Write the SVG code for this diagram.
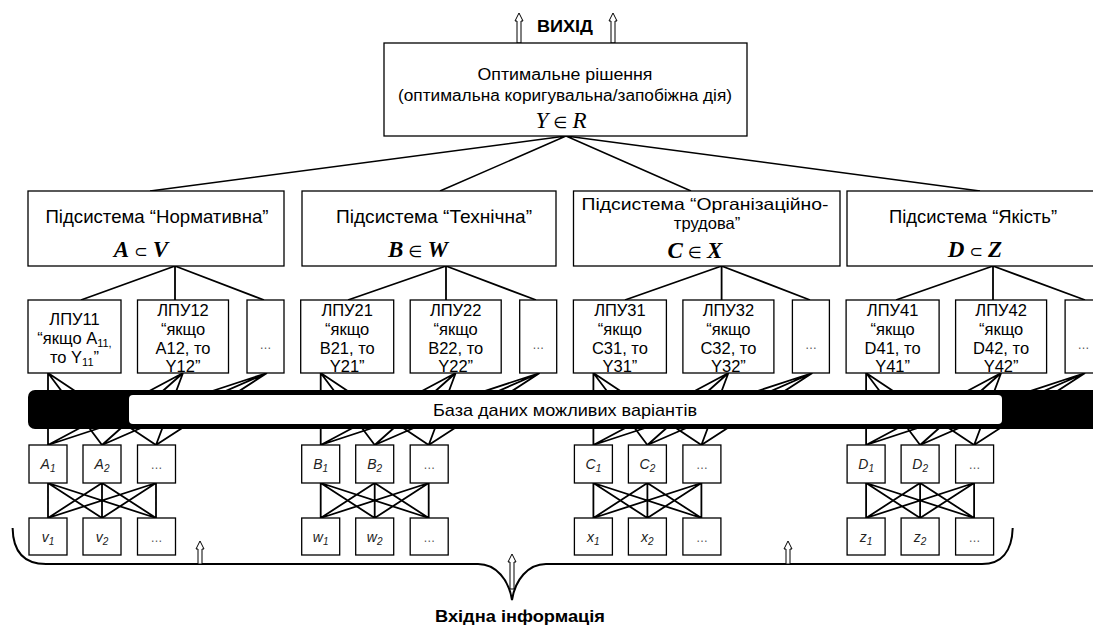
<svg xmlns="http://www.w3.org/2000/svg" width="1093" height="626" viewBox="0 0 1093 626">
<style>
.box{fill:#fff;stroke:#000;stroke-width:1.3}
.ln{stroke:#000;stroke-width:1.5;fill:none}
.ln2{stroke:#000;stroke-width:1.8;fill:none}
.t{font-family:"Liberation Sans",Arial,sans-serif;fill:#000;text-anchor:middle}
.top{font-size:16px}
.sub{font-size:18.5px}
.sub3{font-size:16.5px}
.lpu{font-size:16.5px}
.db{font-size:17px}
.m{font-family:"Liberation Serif","Times New Roman",serif;font-style:italic;font-size:23px;text-anchor:middle;fill:#000}
.mb{font-weight:bold}
.op{font-family:"DejaVu Sans",sans-serif;font-style:normal;font-weight:normal;font-size:16px}
.lbl{font-family:"Liberation Sans",Arial,sans-serif;font-style:italic;font-size:14px;fill:#222;text-anchor:middle}
.dots{font-family:"Liberation Sans",Arial,sans-serif;font-size:12px;fill:#555;text-anchor:middle}
.bold{font-family:"Liberation Sans",Arial,sans-serif;font-weight:bold;font-size:16px;fill:#000;text-anchor:middle}
.arr{fill:#fff;stroke:#000;stroke-width:1}
</style>

<g id="connectors">
  <path class="ln" d="M566,136 L150,191 M566,136 L440,191 M566,136 L691,191 M566,136 L980,191"/>
  <path class="ln2" d="M175,266 L81,300 M175,266 L175,300 M175,266 L264,300"/>
  <path class="ln2" d="M446,266 L348,300 M446,266 L446,300 M446,266 L536,300"/>
  <path class="ln2" d="M721.6,266 L625,300 M721.6,266 L721.6,300 M721.6,266 L810,300"/>
  <path class="ln2" d="M993,266 L896,300 M993,266 L993,300 M993,266 L1085,300"/>
  <path class="ln2" d="M48,373 L48,445 M48,373 L102,445 M48,373 L156,445 M183,373 L48,445 M183,373 L102,445 M183,373 L156,445 M267,373 L48,445 M267,373 L102,445 M267,373 L156,445"/>
  <path class="ln2" d="M320.7,373 L320.7,445 M320.7,373 L374.7,445 M320.7,373 L428.7,445 M455.7,373 L320.7,445 M455.7,373 L374.7,445 M455.7,373 L428.7,445 M539.7,373 L320.7,445 M539.7,373 L374.7,445 M539.7,373 L428.7,445"/>
  <path class="ln2" d="M593.4,373 L593.4,445 M593.4,373 L647.4,445 M593.4,373 L701.4,445 M728.4,373 L593.4,445 M728.4,373 L647.4,445 M728.4,373 L701.4,445 M812.4,373 L593.4,445 M812.4,373 L647.4,445 M812.4,373 L701.4,445"/>
  <path class="ln2" d="M866.1,373 L866.1,445 M866.1,373 L920.1,445 M866.1,373 L974.1,445 M1001.1,373 L866.1,445 M1001.1,373 L920.1,445 M1001.1,373 L974.1,445 M1085.1,373 L866.1,445 M1085.1,373 L920.1,445 M1085.1,373 L974.1,445"/>
  <path class="ln2" d="M48,483 L48,518 M48,483 L102,518 M48,483 L156,518 M102,483 L48,518 M102,483 L102,518 M102,483 L156,518 M156,483 L48,518 M156,483 L102,518 M156,483 L156,518"/>
  <path class="ln2" d="M320.7,483 L320.7,518 M320.7,483 L374.7,518 M320.7,483 L428.7,518 M374.7,483 L320.7,518 M374.7,483 L374.7,518 M374.7,483 L428.7,518 M428.7,483 L320.7,518 M428.7,483 L374.7,518 M428.7,483 L428.7,518"/>
  <path class="ln2" d="M593.4,483 L593.4,518 M593.4,483 L647.4,518 M593.4,483 L701.4,518 M647.4,483 L593.4,518 M647.4,483 L647.4,518 M647.4,483 L701.4,518 M701.4,483 L593.4,518 M701.4,483 L647.4,518 M701.4,483 L701.4,518"/>
  <path class="ln2" d="M866.1,483 L866.1,518 M866.1,483 L920.1,518 M866.1,483 L974.1,518 M920.1,483 L866.1,518 M920.1,483 L920.1,518 M920.1,483 L974.1,518 M974.1,483 L866.1,518 M974.1,483 L920.1,518 M974.1,483 L974.1,518"/>
</g>

<g id="output">
  <polygon class="arr" points="519,13 523,21 521,21 521,43 517,43 517,21 515,21"/>
  <polygon class="arr" points="613,13 617,21 615,21 615,43 611,43 611,21 609,21"/>
  <text class="bold" x="565" y="32" textLength="56" lengthAdjust="spacingAndGlyphs">ВИХІД</text>
</g>

<g id="n-top">
  <rect class="box" x="384" y="43" width="363" height="93"/>
  <text class="t top" x="565" y="80" textLength="175" lengthAdjust="spacingAndGlyphs">Оптимальне рішення</text>
  <text class="t top" x="565" y="101" textLength="334" lengthAdjust="spacingAndGlyphs">(оптимальна коригувальна/запобіжна дія)</text>
  <text class="m" x="561" y="128">Y<tspan class="op"> ∈ </tspan>R</text>
</g>

<g id="n-sub1">
  <rect class="box" x="28" y="191" width="256" height="75"/>
  <text class="t sub" x="157" y="223" textLength="223" lengthAdjust="spacingAndGlyphs">Підсистема “Нормативна”</text>
  <text class="m mb" x="141" y="257">A<tspan class="op">  ⊂  </tspan>V</text>
</g>
<g id="n-sub2">
  <rect class="box" x="302" y="191" width="254" height="75"/>
  <text class="t sub" x="434" y="223" textLength="196" lengthAdjust="spacingAndGlyphs">Підсистема “Технічна”</text>
  <text class="m mb" x="418" y="257">B<tspan class="op">  ∈  </tspan>W</text>
</g>
<g id="n-sub3">
  <rect class="box" x="573.5" y="191" width="266.5" height="75"/>
  <text class="t sub3" x="705" y="210" textLength="247" lengthAdjust="spacingAndGlyphs">Підсистема “Організаційно-</text>
  <text class="t sub3" x="707" y="229">трудова”</text>
  <text class="m mb" x="695" y="258">C<tspan class="op">  ∈  </tspan>X</text>
</g>
<g id="n-sub4">
  <rect class="box" x="847" y="191" width="260" height="75"/>
  <text class="t sub" x="973" y="223" textLength="168" lengthAdjust="spacingAndGlyphs">Підсистема “Якість”</text>
  <text class="m mb" x="975" y="257">D<tspan class="op">  ⊂  </tspan>Z</text>
</g>

<g id="n-lpu11">
  <rect class="box" x="28" y="300" width="93" height="73"/>
  <text class="t lpu" x="74.5" y="325">ЛПУ11</text>
  <text class="t lpu" x="74.5" y="344">“якщо A<tspan font-size="11" dy="3">11,</tspan></text>
  <text class="t lpu" x="74.5" y="363">то Y<tspan font-size="11" dy="3">11</tspan><tspan dy="-3">”</tspan></text>
</g>
<g id="n-lpu12">
  <rect class="box" x="137.5" y="300" width="91" height="73"/>
  <text class="t lpu" x="183" y="316">ЛПУ12</text>
  <text class="t lpu" x="183" y="335">“якщо</text>
  <text class="t lpu" x="183" y="354">A12, то</text>
  <text class="t lpu" x="183" y="372">Y12”</text>
</g>
<g id="n-lpu1x">
  <rect class="box" x="247" y="300" width="37" height="73"/>
  <text class="dots" x="265.5" y="349">…</text>
</g>
<g id="n-lpu21">
  <rect class="box" x="300.7" y="300" width="93" height="73"/>
  <text class="t lpu" x="347.2" y="316">ЛПУ21</text>
  <text class="t lpu" x="347.2" y="335">“якщо</text>
  <text class="t lpu" x="347.2" y="354">B21, то</text>
  <text class="t lpu" x="347.2" y="372">Y21”</text>
</g>
<g id="n-lpu22">
  <rect class="box" x="410.2" y="300" width="91" height="73"/>
  <text class="t lpu" x="455.7" y="316">ЛПУ22</text>
  <text class="t lpu" x="455.7" y="335">“якщо</text>
  <text class="t lpu" x="455.7" y="354">B22, то</text>
  <text class="t lpu" x="455.7" y="372">Y22”</text>
</g>
<g id="n-lpu2x">
  <rect class="box" x="519.7" y="300" width="37" height="73"/>
  <text class="dots" x="538.2" y="349">…</text>
</g>
<g id="n-lpu31">
  <rect class="box" x="573.4" y="300" width="93" height="73"/>
  <text class="t lpu" x="619.9" y="316">ЛПУ31</text>
  <text class="t lpu" x="619.9" y="335">“якщо</text>
  <text class="t lpu" x="619.9" y="354">C31, то</text>
  <text class="t lpu" x="619.9" y="372">Y31”</text>
</g>
<g id="n-lpu32">
  <rect class="box" x="682.9" y="300" width="91" height="73"/>
  <text class="t lpu" x="728.4" y="316">ЛПУ32</text>
  <text class="t lpu" x="728.4" y="335">“якщо</text>
  <text class="t lpu" x="728.4" y="354">C32, то</text>
  <text class="t lpu" x="728.4" y="372">Y32”</text>
</g>
<g id="n-lpu3x">
  <rect class="box" x="792.4" y="300" width="37" height="73"/>
  <text class="dots" x="810.9" y="349">…</text>
</g>
<g id="n-lpu41">
  <rect class="box" x="846.1" y="300" width="93" height="73"/>
  <text class="t lpu" x="892.6" y="316">ЛПУ41</text>
  <text class="t lpu" x="892.6" y="335">“якщо</text>
  <text class="t lpu" x="892.6" y="354">D41, то</text>
  <text class="t lpu" x="892.6" y="372">Y41”</text>
</g>
<g id="n-lpu42">
  <rect class="box" x="955.6" y="300" width="91" height="73"/>
  <text class="t lpu" x="1001.1" y="316">ЛПУ42</text>
  <text class="t lpu" x="1001.1" y="335">“якщо</text>
  <text class="t lpu" x="1001.1" y="354">D42, то</text>
  <text class="t lpu" x="1001.1" y="372">Y42”</text>
</g>
<g id="n-lpu4x">
  <rect class="box" x="1065.1" y="300" width="37" height="73"/>
  <text class="dots" x="1083.6" y="349">…</text>
</g>

<g id="n-db">
  <rect x="28" y="390" width="1090" height="39" rx="7" fill="#000"/>
  <rect x="129" y="395" width="873" height="29" rx="4" fill="#fff"/>
  <text class="t db" x="565" y="416" textLength="264" lengthAdjust="spacingAndGlyphs">База даних можливих варіантів</text>
</g>

<g id="n-a1"><rect class="box" x="29" y="445" width="38" height="38"/><text class="lbl" x="48" y="469">A<tspan font-size="10" dy="3">1</tspan></text></g>
<g id="n-a2"><rect class="box" x="83" y="445" width="38" height="38"/><text class="lbl" x="102" y="469">A<tspan font-size="10" dy="3">2</tspan></text></g>
<g id="n-ax"><rect class="box" x="137.5" y="445" width="38" height="38"/><text class="dots" x="156.5" y="469">…</text></g>
<g id="n-b1"><rect class="box" x="301.7" y="445" width="38" height="38"/><text class="lbl" x="320.7" y="469">B<tspan font-size="10" dy="3">1</tspan></text></g>
<g id="n-b2"><rect class="box" x="355.7" y="445" width="38" height="38"/><text class="lbl" x="374.7" y="469">B<tspan font-size="10" dy="3">2</tspan></text></g>
<g id="n-bx"><rect class="box" x="410.2" y="445" width="38" height="38"/><text class="dots" x="429.2" y="469">…</text></g>
<g id="n-c1"><rect class="box" x="574.4" y="445" width="38" height="38"/><text class="lbl" x="593.4" y="469">C<tspan font-size="10" dy="3">1</tspan></text></g>
<g id="n-c2"><rect class="box" x="628.4" y="445" width="38" height="38"/><text class="lbl" x="647.4" y="469">C<tspan font-size="10" dy="3">2</tspan></text></g>
<g id="n-cx"><rect class="box" x="682.9" y="445" width="38" height="38"/><text class="dots" x="701.9" y="469">…</text></g>
<g id="n-d1"><rect class="box" x="847.1" y="445" width="38" height="38"/><text class="lbl" x="866.1" y="469">D<tspan font-size="10" dy="3">1</tspan></text></g>
<g id="n-d2"><rect class="box" x="901.1" y="445" width="38" height="38"/><text class="lbl" x="920.1" y="469">D<tspan font-size="10" dy="3">2</tspan></text></g>
<g id="n-dx"><rect class="box" x="955.6" y="445" width="38" height="38"/><text class="dots" x="974.6" y="469">…</text></g>

<g id="n-v1"><rect class="box" x="29" y="518" width="38" height="37"/><text class="lbl" x="48" y="542">v<tspan font-size="10" dy="3">1</tspan></text></g>
<g id="n-v2"><rect class="box" x="83" y="518" width="38" height="37"/><text class="lbl" x="102" y="542">v<tspan font-size="10" dy="3">2</tspan></text></g>
<g id="n-vx"><rect class="box" x="137.5" y="518" width="38" height="37"/><text class="dots" x="156.5" y="542">…</text></g>
<g id="n-w1"><rect class="box" x="301.7" y="518" width="38" height="37"/><text class="lbl" x="320.7" y="542">w<tspan font-size="10" dy="3">1</tspan></text></g>
<g id="n-w2"><rect class="box" x="355.7" y="518" width="38" height="37"/><text class="lbl" x="374.7" y="542">w<tspan font-size="10" dy="3">2</tspan></text></g>
<g id="n-wx"><rect class="box" x="410.2" y="518" width="38" height="37"/><text class="dots" x="429.2" y="542">…</text></g>
<g id="n-x1"><rect class="box" x="574.4" y="518" width="38" height="37"/><text class="lbl" x="593.4" y="542">x<tspan font-size="10" dy="3">1</tspan></text></g>
<g id="n-x2"><rect class="box" x="628.4" y="518" width="38" height="37"/><text class="lbl" x="647.4" y="542">x<tspan font-size="10" dy="3">2</tspan></text></g>
<g id="n-xx"><rect class="box" x="682.9" y="518" width="38" height="37"/><text class="dots" x="701.9" y="542">…</text></g>
<g id="n-z1"><rect class="box" x="847.1" y="518" width="38" height="37"/><text class="lbl" x="866.1" y="542">z<tspan font-size="10" dy="3">1</tspan></text></g>
<g id="n-z2"><rect class="box" x="901.1" y="518" width="38" height="37"/><text class="lbl" x="920.1" y="542">z<tspan font-size="10" dy="3">2</tspan></text></g>
<g id="n-zx"><rect class="box" x="955.6" y="518" width="38" height="37"/><text class="dots" x="974.6" y="542">…</text></g>

<g id="input">
  <path d="M12.6,528 C13,552 24,564 46,564 L478,564 C496,564 509,580 512,600 C515,580 528,564 546,564 L982,564 C1001,564 1012,552 1012.7,528" fill="none" stroke="#000" stroke-width="2"/>
  <polygon class="arr" points="200,541 204,549 202,549 202,564 198,564 198,549 196,549"/>
  <polygon class="arr" points="788,541 792,549 790,549 790,564 786,564 786,549 784,549"/>
  <polygon class="arr" points="512,554 516,562 514,562 514,589 510,589 510,562 508,562"/>
  <text class="bold" x="520" y="622" textLength="170" lengthAdjust="spacingAndGlyphs">Вхідна інформація</text>
</g>
</svg>
